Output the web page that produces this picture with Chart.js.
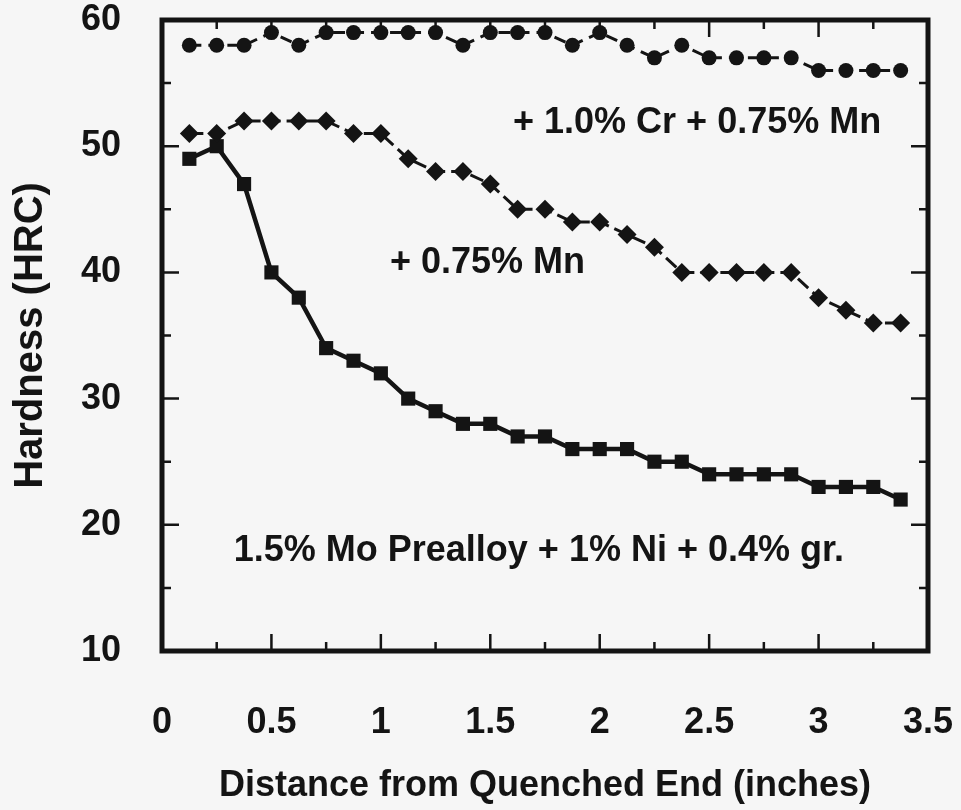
<!DOCTYPE html>
<html>
<head>
<meta charset="utf-8">
<script src="https://cdn.jsdelivr.net/npm/chart.js@4"></script>
<style>
  html, body { margin: 0; padding: 0; background: #f6f6f6; }
  #wrap { width: 961px; height: 810px; }
</style>
</head>
<body>
<div id="wrap"><canvas id="c" width="961" height="810"></canvas></div>
<script>
// ---- data ----
const distances = [0.125, 0.25, 0.375, 0.5, 0.625, 0.75, 0.875, 1.0, 1.125, 1.25, 1.375, 1.5, 1.625, 1.75,
                   1.875, 2.0, 2.125, 2.25, 2.375, 2.5, 2.625, 2.75, 2.875, 3.0, 3.125, 3.25, 3.375];
const crMnHardness = [58, 58, 58, 59, 58, 59, 59, 59, 59, 59, 58, 59, 59, 59,
                      58, 59, 58, 57, 58, 57, 57, 57, 57, 56, 56, 56, 56];
const mnHardness   = [51, 51, 52, 52, 52, 52, 51, 51, 49, 48, 48, 47, 45, 45,
                      44, 44, 43, 42, 40, 40, 40, 40, 40, 38, 37, 36, 36];
const moNiHardness = [49, 50, 47, 40, 38, 34, 33, 32, 30, 29, 28, 28, 27, 27,
                      26, 26, 26, 25, 25, 24, 24, 24, 24, 23, 23, 23, 22];
const seriesLabels = ['+ 1.0% Cr + 0.75% Mn', '+ 0.75% Mn', '1.5% Mo Prealloy + 1% Ni + 0.4% gr.'];
const xTickValues = [0, 0.25, 0.5, 0.75, 1, 1.25, 1.5, 1.75, 2, 2.25, 2.5, 2.75, 3, 3.25, 3.5];
const yTickValues = [10, 15, 20, 25, 30, 35, 40, 45, 50, 55, 60];
const xTitle = 'Distance from Quenched End (inches)';
const yTitle = 'Hardness (HRC)';
// annotation anchor points in data units (centre of each label)
const labelAnchorsX = [2.445, 1.487, 1.722];
const labelAnchorsY = [51.85, 40.7, 17.95];

const FAMILY = '"Liberation Sans", Arial, Helvetica, sans-serif';
const INK = '#141414';

const toPts = (ys) => distances.map((d, i) => ({ x: d, y: ys[i] }));

const framePlugin = {
  id: 'frame',
  afterDatasetsDraw(chart) {
    const { ctx, chartArea: a, scales } = chart;
    const xs = scales.x, ys = scales.y;
    ctx.save();
    ctx.strokeStyle = INK;
    ctx.lineCap = 'butt';
    ctx.lineWidth = 2.5;
    xTickValues.forEach(v => {
      const px = xs.getPixelForValue(v);
      const major = Math.abs(v * 2 - Math.round(v * 2)) < 1e-6;
      const len = major ? 17 : 9;
      ctx.beginPath();
      ctx.moveTo(px, a.bottom); ctx.lineTo(px, a.bottom - len);
      ctx.moveTo(px, a.top); ctx.lineTo(px, a.top + len);
      ctx.stroke();
    });
    yTickValues.forEach(v => {
      const py = ys.getPixelForValue(v);
      const major = v % 10 === 0;
      const len = major ? 17 : 9;
      ctx.beginPath();
      ctx.moveTo(a.left, py); ctx.lineTo(a.left + len, py);
      ctx.moveTo(a.right, py); ctx.lineTo(a.right - len, py);
      ctx.stroke();
    });
    ctx.lineWidth = 5;
    ctx.strokeRect(a.left, a.top, a.right - a.left, a.bottom - a.top);
    ctx.fillStyle = INK;
    ctx.textAlign = 'center';
    ctx.textBaseline = 'middle';
    ctx.font = 'bold 36px ' + FAMILY;
    seriesLabels.forEach((t, i) => {
      ctx.fillText(t, xs.getPixelForValue(labelAnchorsX[i]), ys.getPixelForValue(labelAnchorsY[i]));
    });
    ctx.restore();
  }
};

const noOverflow = (s) => { s.paddingTop = 0; s.paddingBottom = 0; s.paddingLeft = 0; s.paddingRight = 0; };

new Chart(document.getElementById('c'), {
  type: 'line',
  data: {
    datasets: [
      {
        label: seriesLabels[0],
        data: toPts(crMnHardness),
        borderColor: INK, backgroundColor: INK,
        borderWidth: 3, borderDash: [12, 7], pointStyle: 'circle', pointRadius: 7.5,
        pointBorderWidth: 0, tension: 0
      },
      {
        label: seriesLabels[1],
        data: toPts(mnHardness),
        borderColor: INK, backgroundColor: INK,
        borderWidth: 3, borderDash: [14, 6], pointStyle: 'rectRot', pointRadius: 9.5,
        pointBorderWidth: 0, tension: 0
      },
      {
        label: seriesLabels[2],
        data: toPts(moNiHardness),
        borderColor: INK, backgroundColor: INK,
        borderWidth: 4.5, pointStyle: 'rect', pointRadius: 10,
        pointBorderWidth: 0, tension: 0
      }
    ]
  },
  options: {
    responsive: false,
    animation: false,
    clip: false,
    events: [],
    layout: { padding: { left: 0, top: 20, right: 33, bottom: 0 } },
    plugins: { legend: { display: false }, tooltip: { enabled: false } },
    scales: {
      x: {
        type: 'linear', min: 0, max: 3.5,
        grid: { display: false, drawTicks: false },
        border: { display: false },
        ticks: {
          stepSize: 0.5, color: INK, padding: 50,
          callback: (v) => String(+Number(v).toFixed(2)),
          font: { family: FAMILY, size: 36, weight: 'bold' }
        },
        title: {
          display: true, text: xTitle, color: INK,
          font: { family: FAMILY, size: 36, weight: 'bold' },
          padding: { top: 0, bottom: 2 }
        },
        afterFit: (s) => { s.height = 159; noOverflow(s); }
      },
      y: {
        type: 'linear', min: 10, max: 60,
        grid: { display: false, drawTicks: false },
        border: { display: false },
        ticks: {
          stepSize: 10, color: INK, padding: 41,
          font: { family: FAMILY, size: 36, weight: 'bold' }
        },
        title: {
          display: true, text: yTitle, color: INK,
          font: { family: FAMILY, size: 40, weight: 'bold' },
          padding: { top: 7, bottom: 0 }
        },
        afterFit: (s) => { s.width = 162; noOverflow(s); }
      }
    }
  },
  plugins: [framePlugin]
});
</script>
</body>
</html>
